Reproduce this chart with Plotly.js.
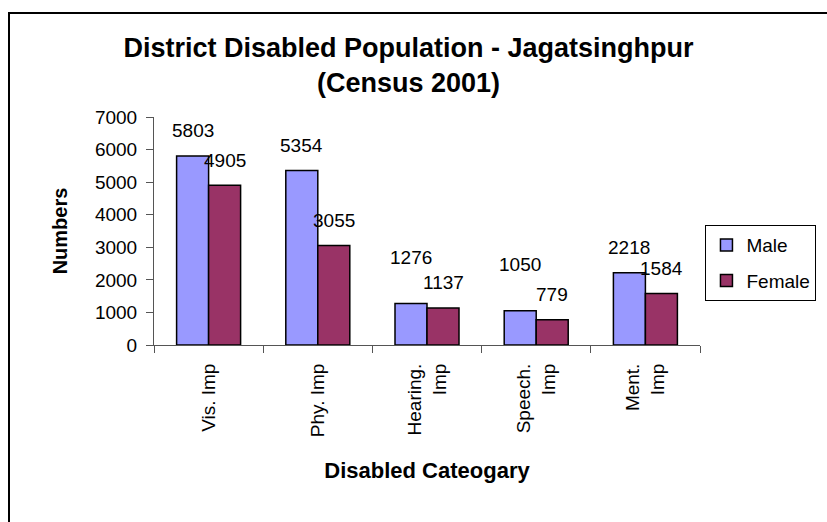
<!DOCTYPE html>
<html>
<head>
<meta charset="utf-8">
<script src="https://cdn.plot.ly/plotly-3.0.1.min.js"></script>
<style>
  html, body { margin: 0; padding: 0; background: #fff; }
  #wrap { position: relative; width: 827px; height: 522px; overflow: hidden; }
  #chart { position: absolute; left: 0; top: 0; width: 827px; height: 522px; }
  #frame { position: absolute; left: 8px; top: 12px; width: 900px; height: 600px;
           border-left: 2px solid #000; border-top: 2px solid #000; pointer-events: none; }
</style>
</head>
<body>
<div id="wrap">
  <div id="chart"></div>
  <div id="frame"></div>
</div>
<script>
// ---- data ----
const categories = ["Vis. Imp", "Phy. Imp", "Hearing.<br>Imp", "Speech.<br>Imp", "Ment.<br>Imp"];
const maleValues = [5803, 5354, 1276, 1050, 2218];
const femaleValues = [4905, 3055, 1137, 779, 1584];
const seriesNames = ["Male", "Female"];
const yTickValues = [0, 1000, 2000, 3000, 4000, 5000, 6000, 7000];

// ---- styles ----
const maleColor = "#9999FF";
const femaleColor = "#993366";
const font = "Liberation Sans, Arial, sans-serif";
const maleLabelLift = [25, 25, 46, 46, 25];   // px lift of data labels (Excel placement)
const femaleLabelLift = [25, 25, 25, 25, 25];

const traces = [
  { type: "bar", name: seriesNames[0], x: categories, y: maleValues, legendgroup: "m",
    marker: { color: maleColor, line: { color: "#000", width: 1.5 } } },
  { type: "bar", name: seriesNames[1], x: categories, y: femaleValues, legendgroup: "f",
    marker: { color: femaleColor, line: { color: "#000", width: 1.5 } } }
];

const annotations = [];
categories.forEach((c, i) => {
  annotations.push({ x: c, y: maleValues[i], xref: "x", yref: "y", text: String(maleValues[i]),
    showarrow: false, xshift: -16, yshift: maleLabelLift[i], yanchor: "middle",
    font: { family: font, size: 19, color: "#000" } });
  annotations.push({ x: c, y: femaleValues[i], xref: "x", yref: "y", text: String(femaleValues[i]),
    showarrow: false, xshift: 16, yshift: femaleLabelLift[i], yanchor: "middle",
    font: { family: font, size: 19, color: "#000" } });
});

const layout = {
  width: 827, height: 522,
  margin: { l: 154, r: 127, t: 117, b: 177, autoexpand: false },
  paper_bgcolor: "rgba(0,0,0,0)", plot_bgcolor: "rgba(0,0,0,0)",
  font: { family: font, color: "#000" },
  title: { text: "<b>District Disabled Population - Jagatsinghpur<br>(Census 2001)</b>",
           x: 0.494, xref: "container", xanchor: "center",
           y: 1 - 57 / 522, yref: "container", yanchor: "top",
           font: { family: font, size: 27, color: "#000" } },
  barmode: "group", bargap: 0.414, bargroupgap: 0,
  xaxis: { type: "category", tickson: "boundaries", ticks: "outside", ticklen: 7,
           tickcolor: "#555", linecolor: "#555", linewidth: 1, showline: true,
           tickangle: -90, tickfont: { family: font, size: 19 }, ticklabelstandoff: 10,
           showgrid: false, zeroline: false, automargin: false,
           title: { text: "<b>Disabled Cateogary</b>", standoff: 26, font: { family: font, size: 22 } } },
  yaxis: { range: [0, 7000], tickvals: yTickValues, ticks: "outside", ticklen: 7,
           tickcolor: "#555", linecolor: "#555", linewidth: 1, showline: true,
           tickfont: { family: font, size: 19 }, ticklabelstandoff: 5,
           showgrid: false, zeroline: false, automargin: false,
           title: { text: "<b>Numbers</b>", standoff: 21, font: { family: font, size: 20 } } },
  showlegend: true,
  legend: { x: 1.01, xanchor: "left", y: 0.526, yanchor: "top",
            bordercolor: "#000", borderwidth: 1, bgcolor: "#fff", tracegroupgap: 8,
            itemwidth: 30, font: { family: font, size: 19 } },
  annotations: annotations
};

Plotly.newPlot("chart", traces, layout, { displayModeBar: false, staticPlot: true });
</script>
</body>
</html>
